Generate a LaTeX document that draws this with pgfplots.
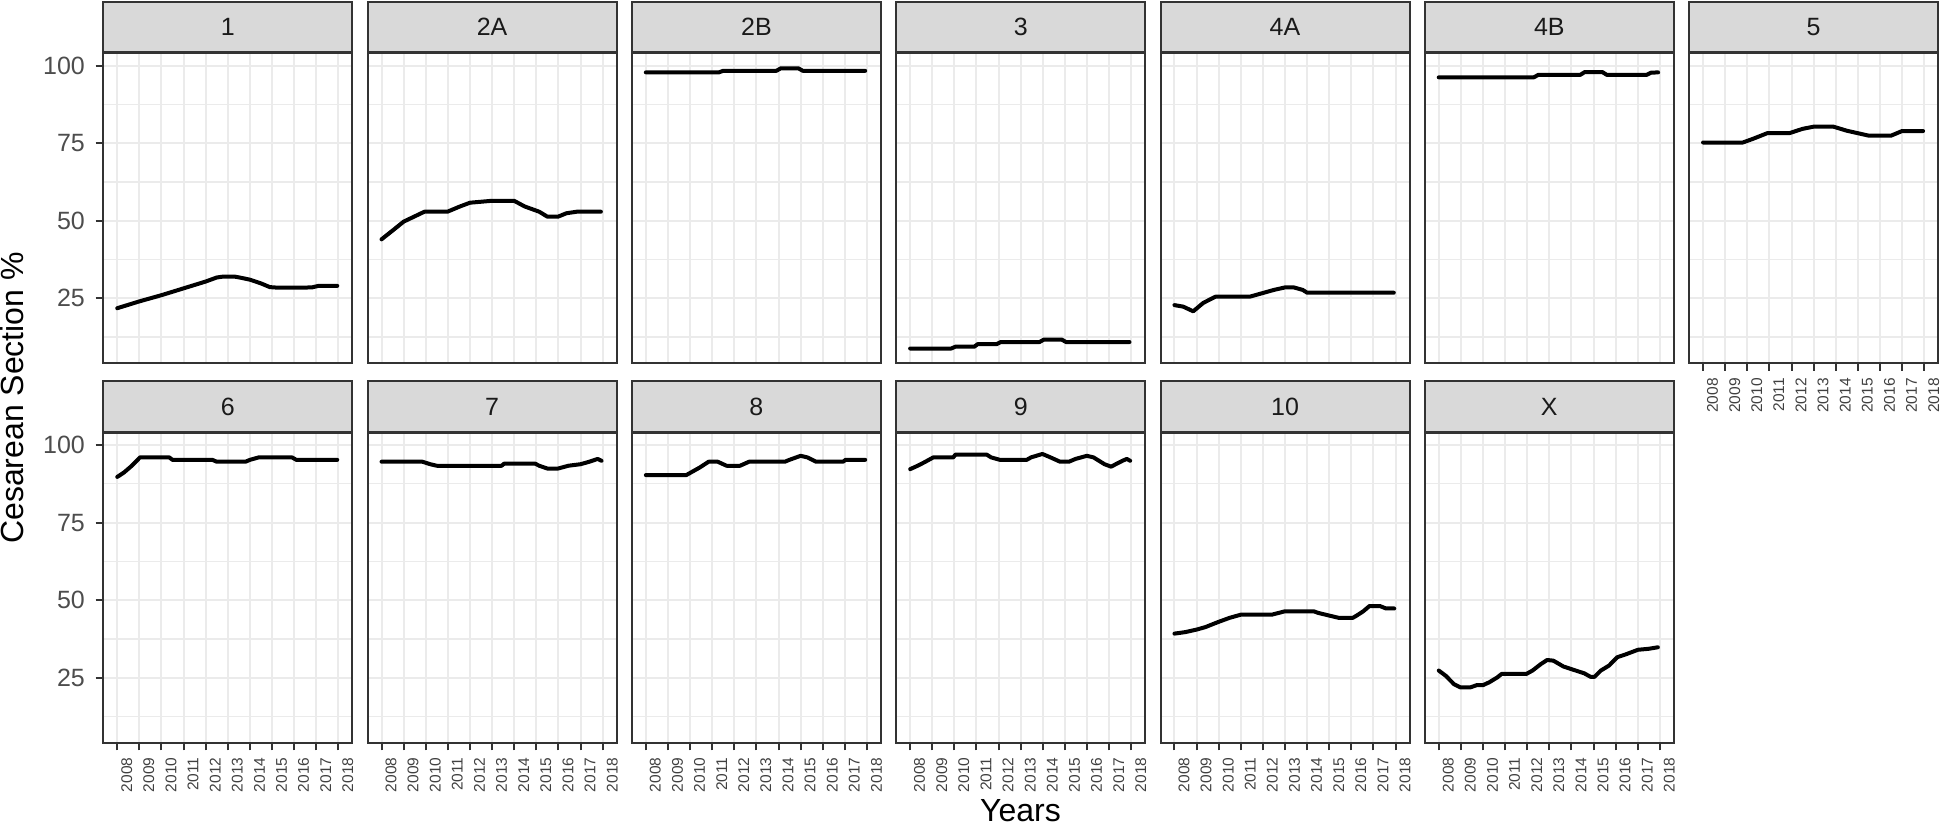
\documentclass[border=0pt]{standalone}
\usepackage{pgfplots}
\pgfplotsset{compat=1.18}
\usepackage{fontspec}
\setmainfont{Liberation Sans}
\definecolor{gridc}{HTML}{EBEBEB}
\definecolor{borderc}{HTML}{333333}
\definecolor{stripc}{HTML}{D9D9D9}
\definecolor{tickc}{HTML}{4D4D4D}
\definecolor{xtickc}{HTML}{404040}
\definecolor{stript}{HTML}{1A1A1A}
\pgfplotsset{
  panel/.style={
    scale only axis, width=249pt, height=310pt,
    anchor=north west,
    xmin=2007.37, xmax=2018.63, ymin=4.05, ymax=103.95,
    xtick={2008,2009,2010,2011,2012,2013,2014,2015,2016,2017,2018},
    xticklabels={2008,2009,2010,2011,2012,2013,2014,2015,2016,2017,2018},
    ytick={25,50,75,100}, yticklabels={25,50,75,100},
    minor ytick={12.5,37.5,62.5,87.5},
    xmajorgrids=true, ymajorgrids=true, yminorgrids=true,
    major grid style={draw=gridc, line width=2pt},
    minor grid style={draw=gridc, line width=1.3pt},
    axis line style={draw=borderc, line width=2pt},
    tick align=outside, major tick length=7.7pt, minor tick length=0pt,
    xtick pos=bottom, ytick pos=left,
    tick style={draw=borderc, line width=2pt},
    /pgf/number format/assume math mode=true,
    yticklabel style={font=\fontsize{25}{25}\selectfont, text=tickc, inner sep=0pt, xshift=-10.5pt},
    xticklabel style={font=\fontsize{15.5}{15.5}\selectfont, text=xtickc, inner sep=0pt, xshift=9.5pt, yshift=-7pt, rotate=90, anchor=east},
    every axis title shift=0pt,
    title style={at={(0.5,1)}, anchor=south, draw=borderc, line width=2pt, fill=stripc, minimum width=249pt, minimum height=50.5pt, inner sep=0pt, text=stript, font=\fontsize{25}{25}\selectfont},
  },
  nox/.style={xmajorticks=false},
  noy/.style={ymajorticks=false},
  series/.style={black, line width=4pt, line join=round, line cap=round, mark=none},
}
\begin{document}
\begin{tikzpicture}
\path[use as bounding box] (0pt,0pt) rectangle (1944pt,-832pt);
% ---------- row 1 ----------
\begin{axis}[panel, nox, at={(103.3pt,-53.3pt)}, title={1}]
\addplot[series] coordinates {(2008,21.8) (2008.5,22.9) (2009,24.0) (2009.5,25.0) (2010,26.0) (2010.5,27.1) (2011,28.2) (2011.5,29.3) (2012,30.4) (2012.5,31.7) (2012.8,32.0) (2013.3,32.0) (2013.6,31.6) (2014,31.0) (2014.5,29.8) (2014.9,28.6) (2015.3,28.4) (2016,28.4) (2016.8,28.5) (2017.1,29.0) (2017.95,29.0)};
\end{axis}
\begin{axis}[panel, nox, noy, at={(367.6pt,-53.3pt)}, title={2A}]
\addplot[series] coordinates {(2008,44.0) (2008.53,47.0) (2009.0,49.7) (2009.47,51.3) (2009.94,52.9) (2010.98,52.9) (2011.55,54.6) (2012.0,55.8) (2012.96,56.4) (2014.0,56.4) (2014.47,54.6) (2015.13,52.9) (2015.5,51.3) (2015.98,51.3) (2016.36,52.4) (2016.83,52.9) (2017.92,52.9)};
\end{axis}
\begin{axis}[panel, nox, noy, at={(631.9pt,-53.3pt)}, title={2B}]
\addplot[series] coordinates {(2008,97.8) (2011.3,97.8) (2011.5,98.3) (2013.9,98.3) (2014.1,99.1) (2014.9,99.1) (2015.1,98.3) (2017.92,98.3)};
\end{axis}
\begin{axis}[panel, nox, noy, at={(896.2pt,-53.3pt)}, title={3}]
\addplot[series] coordinates {(2008,8.8) (2009.85,8.8) (2010.05,9.4) (2010.9,9.4) (2011.05,10.2) (2011.9,10.2) (2012.1,10.9) (2013.85,10.9) (2014.05,11.7) (2014.85,11.7) (2015.05,10.9) (2017.92,10.9)};
\end{axis}
\begin{axis}[panel, nox, noy, at={(1160.5pt,-53.3pt)}, title={4A}]
\addplot[series] coordinates {(2008,22.8) (2008.4,22.3) (2008.85,20.8) (2009.3,23.5) (2009.85,25.5) (2011.4,25.5) (2012,26.7) (2012.5,27.7) (2013,28.5) (2013.4,28.5) (2013.8,27.7) (2014.0,26.8) (2017.92,26.8)};
\end{axis}
\begin{axis}[panel, nox, noy, at={(1424.8pt,-53.3pt)}, title={4B}]
\addplot[series] coordinates {(2008,96.2) (2012.3,96.2) (2012.5,97.0) (2014.4,97.0) (2014.6,97.9) (2015.4,97.9) (2015.6,97.0) (2017.4,97.0) (2017.6,97.7) (2017.92,97.8)};
\end{axis}
\begin{axis}[panel, noy, at={(1689.1pt,-53.3pt)}, title={5}]
\addplot[series] coordinates {(2008,75.2) (2009.8,75.2) (2010.3,76.5) (2010.9,78.2) (2011.9,78.2) (2012.5,79.6) (2013,80.3) (2013.9,80.3) (2014.5,79.0) (2015,78.2) (2015.5,77.4) (2016.5,77.4) (2017,78.9) (2017.95,78.9)};
\end{axis}
% ---------- row 2 ----------
\begin{axis}[panel, at={(103.3pt,-432.7pt)}, title={6}]
\addplot[series] coordinates {(2008,89.7) (2008.3,91.1) (2008.66,93.3) (2009.03,96.0) (2010.35,96.0) (2010.5,95.2) (2012.3,95.2) (2012.5,94.6) (2013.8,94.6) (2014,95.2) (2014.4,96.0) (2015.9,96.0) (2016.1,95.2) (2017.95,95.2)};
\end{axis}
\begin{axis}[panel, noy, at={(367.6pt,-432.7pt)}, title={7}]
\addplot[series] coordinates {(2008,94.6) (2009.85,94.6) (2010.2,93.8) (2010.5,93.3) (2013.43,93.3) (2013.55,94.0) (2014.94,94.0) (2015.13,93.3) (2015.5,92.4) (2015.98,92.4) (2016.45,93.3) (2017.0,93.8) (2017.4,94.6) (2017.77,95.5) (2017.95,94.9)};
\end{axis}
\begin{axis}[panel, noy, at={(631.9pt,-432.7pt)}, title={8}]
\addplot[series] coordinates {(2008,90.3) (2009.83,90.3) (2010.03,91.1) (2010.43,92.7) (2010.84,94.6) (2011.25,94.6) (2011.65,93.3) (2012.26,93.3) (2012.67,94.6) (2014.29,94.6) (2014.49,95.2) (2015,96.5) (2015.3,96.0) (2015.7,94.6) (2016.92,94.6) (2017.03,95.2) (2017.92,95.2)};
\end{axis}
\begin{axis}[panel, noy, at={(896.2pt,-432.7pt)}, title={9}]
\addplot[series] coordinates {(2008,92.2) (2008.34,93.3) (2008.64,94.4) (2009.05,96.0) (2009.95,96.0) (2010.05,96.9) (2011.46,96.9) (2011.66,96.0) (2012.06,95.2) (2013.27,95.2) (2013.47,96.0) (2013.98,97.1) (2014.28,96.2) (2014.78,94.6) (2015.18,94.6) (2015.48,95.5) (2015.99,96.5) (2016.29,96.0) (2016.79,93.8) (2017.09,93.0) (2017.3,93.8) (2017.6,94.9) (2017.8,95.5) (2017.95,94.9)};
\end{axis}
\begin{axis}[panel, noy, at={(1160.5pt,-432.7pt)}, title={10}]
\addplot[series] coordinates {(2008,39.2) (2008.5,39.7) (2009.0,40.5) (2009.4,41.3) (2010.0,43.0) (2010.5,44.3) (2011.0,45.3) (2012.4,45.3) (2013.0,46.4) (2014.3,46.4) (2014.49,45.9) (2014.95,45.1) (2015.42,44.3) (2016.07,44.3) (2016.26,45.1) (2016.54,46.4) (2016.82,48.1) (2017.29,48.1) (2017.57,47.3) (2017.94,47.3)};
\end{axis}
\begin{axis}[panel, noy, at={(1424.8pt,-432.7pt)}, title={X}]
\addplot[series] coordinates {(2008,27.3) (2008.32,25.6) (2008.69,22.9) (2008.97,21.9) (2009.44,21.9) (2009.72,22.6) (2010.0,22.6) (2010.28,23.5) (2010.65,25.1) (2010.84,26.2) (2011.96,26.2) (2012.24,27.3) (2012.62,29.4) (2012.9,30.7) (2013.18,30.5) (2013.64,28.6) (2014.11,27.5) (2014.58,26.4) (2014.86,25.3) (2015.05,25.3) (2015.33,27.3) (2015.7,28.9) (2016.07,31.6) (2016.45,32.5) (2017.01,34.0) (2017.48,34.3) (2017.91,34.8)};
\end{axis}
% ---------- titles ----------
\node[rotate=90, anchor=base, font=\fontsize{32}{32}\selectfont, inner sep=0pt] at (23.5pt,-398pt) {Cesarean Section \%};
\node[anchor=base, font=\fontsize{32}{32}\selectfont, inner sep=0pt] at (1020.5pt,-821.7pt) {Years};
\end{tikzpicture}
\end{document}
